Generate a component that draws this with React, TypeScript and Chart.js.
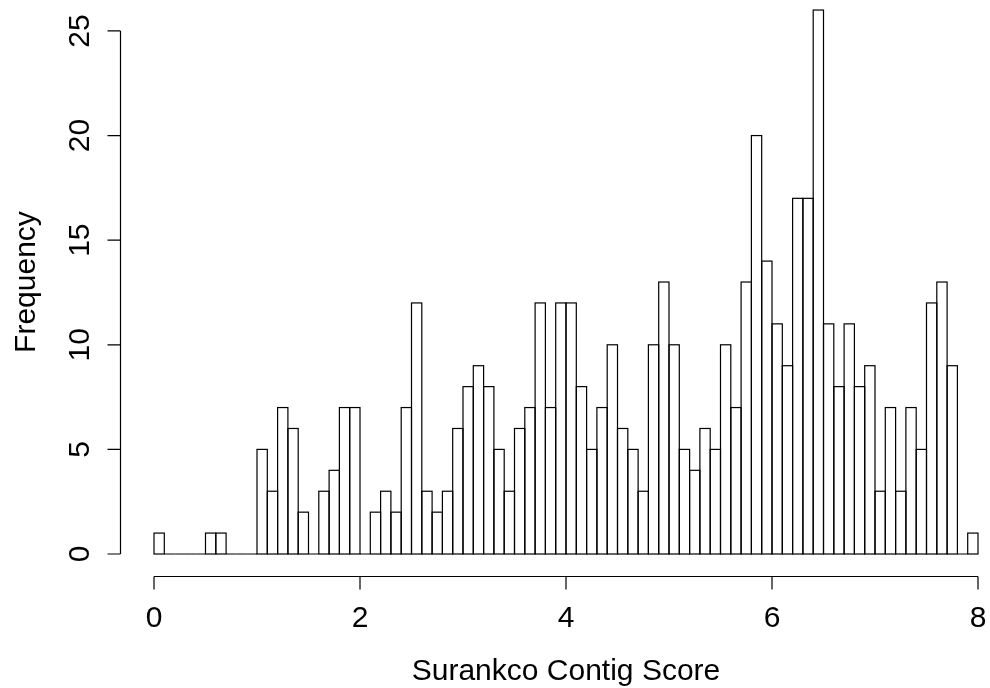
import { useEffect, useRef } from "react";
import { Chart, registerables } from "chart.js";

Chart.register(...registerables);

// Histogram of contig scores: 80 bins of width 0.1 from 0 to 8
const binStart = 0;
const binWidth = 0.1;
const counts = [
  1, 0, 0, 0, 0, 1, 1, 0, 0, 0,
  5, 3, 7, 6, 2, 0, 3, 4, 7, 7,
  0, 2, 3, 2, 7, 12, 3, 2, 3, 6,
  8, 9, 8, 5, 3, 6, 7, 12, 7, 12,
  12, 8, 5, 7, 10, 6, 5, 3, 10, 13,
  10, 5, 4, 6, 5, 10, 7, 13, 20, 14,
  11, 9, 17, 17, 26, 11, 8, 11, 8, 9,
  3, 7, 3, 7, 5, 12, 13, 9, 0, 1,
];

const xTickValues = [0, 2, 4, 6, 8];
const xTickLabels = ["0", "2", "4", "6", "8"];
const yTickValues = [0, 5, 10, 15, 20, 25];
const yTickLabels = ["0", "5", "10", "15", "20", "25"];

const xTitle = "Surankco Contig Score";
const yTitle = "Frequency";

const FONT = '30px "Liberation Sans", Arial, Helvetica, sans-serif';

// Stroke each bin as an open rectangle so neighbouring bins share one edge
const histOutline = {
  id: "histOutline",
  afterDatasetsDraw(chart: any) {
    const ctx = chart.ctx;
    const meta = chart.getDatasetMeta(0);
    ctx.save();
    ctx.strokeStyle = "#000000";
    ctx.lineWidth = 1.2;
    meta.data.forEach((el: any) => {
      const { x, y, base, width } = el.getProps(["x", "y", "base", "width"], true);
      ctx.strokeRect(x - width / 2, y, width, base - y);
    });
    ctx.restore();
  },
};

// Base-graphics style axes: lines span first to last tick, detached from the bars
const baseAxes = {
  id: "baseAxes",
  afterDraw(chart: any) {
    const ctx = chart.ctx;
    const xs = chart.scales.x;
    const ys = chart.scales.y;
    const area = chart.chartArea;
    const axisY = Math.round(area.bottom) + 0.5;
    const axisX = Math.round(area.left) - 0.5;
    const tick = 13;

    ctx.save();
    ctx.strokeStyle = "#000000";
    ctx.fillStyle = "#000000";
    ctx.lineWidth = 1.2;
    ctx.font = FONT;

    // x axis
    const x0 = xs.getPixelForValue(xTickValues[0]);
    const x1 = xs.getPixelForValue(xTickValues[xTickValues.length - 1]);
    ctx.beginPath();
    ctx.moveTo(x0, axisY);
    ctx.lineTo(x1, axisY);
    xTickValues.forEach((v) => {
      const px = xs.getPixelForValue(v);
      ctx.moveTo(px, axisY);
      ctx.lineTo(px, axisY + tick);
    });
    ctx.stroke();
    ctx.textAlign = "center";
    ctx.textBaseline = "alphabetic";
    xTickValues.forEach((v, i) => {
      ctx.fillText(xTickLabels[i], xs.getPixelForValue(v), area.bottom + 51);
    });

    // y axis
    const y0 = ys.getPixelForValue(yTickValues[0]);
    const y1 = ys.getPixelForValue(yTickValues[yTickValues.length - 1]);
    ctx.beginPath();
    ctx.moveTo(axisX, y0);
    ctx.lineTo(axisX, y1);
    yTickValues.forEach((v) => {
      const py = ys.getPixelForValue(v);
      ctx.moveTo(axisX, py);
      ctx.lineTo(axisX - tick, py);
    });
    ctx.stroke();
    yTickValues.forEach((v, i) => {
      ctx.save();
      ctx.translate(area.left - 32.5, ys.getPixelForValue(v));
      ctx.rotate(-Math.PI / 2);
      ctx.fillText(yTickLabels[i], 0, 0);
      ctx.restore();
    });

    // titles
    const midX = xs.getPixelForValue((xTickValues[0] + xTickValues[xTickValues.length - 1]) / 2);
    ctx.fillText(xTitle, midX, area.bottom + 104);
    const midY = ys.getPixelForValue((ys.min + 27.04) / 2);
    ctx.save();
    ctx.translate(35, midY);
    ctx.rotate(-Math.PI / 2);
    ctx.fillText(yTitle, 0, 0);
    ctx.restore();

    ctx.restore();
  },
};

export default function App() {
  const canvasRef = useRef<HTMLCanvasElement | null>(null);

  useEffect(() => {
    const canvas = canvasRef.current;
    if (!canvas) return;
    const chart = new Chart(canvas, {
      type: "bar",
      data: {
        datasets: [
          {
            data: counts.map((c, i) => ({ x: binStart + (i + 0.5) * binWidth, y: c })),
            backgroundColor: "#ffffff",
            borderWidth: 0,
            barPercentage: 1,
            categoryPercentage: 1,
          },
        ],
      },
      options: {
        responsive: false,
        animation: false,
        devicePixelRatio: 1,
        layout: { padding: { left: 121.04, right: 0, top: 0, bottom: 112.24 } },
        scales: {
          x: { type: "linear", min: -0.32, max: 8.1165, offset: false, display: false },
          y: { type: "linear", min: -1.04, max: 26.48, display: false },
        },
        plugins: {
          legend: { display: false },
          tooltip: { enabled: false },
        },
      },
      plugins: [histOutline, baseAxes],
    });
    return () => chart.destroy();
  }, []);

  return (
    <div style={{ position: "fixed", left: 0, top: 0, width: 990, height: 688, background: "#ffffff" }}>
      <canvas ref={canvasRef} width={990} height={688} />
    </div>
  );
}
